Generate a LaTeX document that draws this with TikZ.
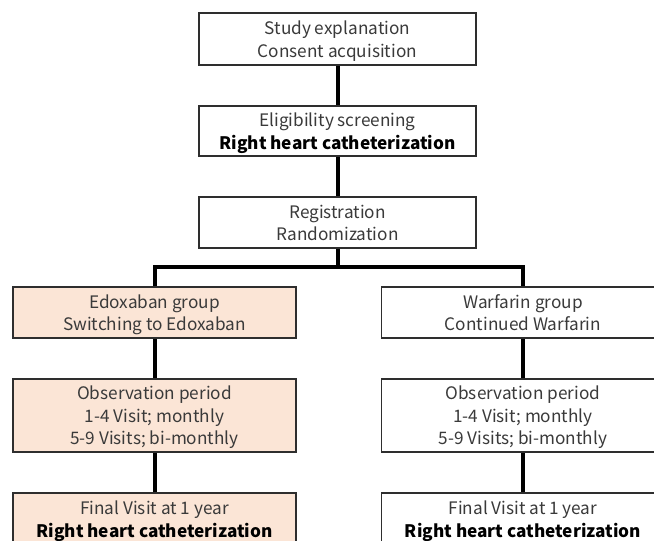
\documentclass[tikz,border=0pt]{standalone}
\usepackage{fontspec}
\setmainfont{Noto Sans CJK JP}
\usetikzlibrary{backgrounds}
\definecolor{peach}{HTML}{FBE5D6}
\definecolor{txtgray}{HTML}{3A3A3A}
\definecolor{bordergray}{HTML}{2E2E2E}
\newcommand\mystrut{\rule[-4.5pt]{0pt}{22.5pt}}
\begin{document}
\begin{tikzpicture}[x=1pt,y=-1pt,
  box/.style={draw=bordergray,line width=1.5pt,fill=white,inner sep=0pt,
    align=center,text=txtgray,
    font=\fontsize{17.2}{22.5}\selectfont},
  peachbox/.style={box,fill=peach},
  conn/.style={line width=4pt,black,line join=miter}]
\useasboundingbox (0,0) rectangle (654,541);
% nodes
\node[box,minimum width=277pt,minimum height=52pt] (consent) at (337.5,39)
  {\mystrut Study explanation\\Consent acquisition\mystrut};
\node[box,minimum width=277pt,minimum height=50pt] (elig) at (337.5,131)
  {\mystrut Eligibility screening\\\textbf{\color{black}Right heart catheterization}\mystrut};
\node[box,minimum width=277pt,minimum height=51pt] (reg) at (337.5,222.5)
  {\mystrut Registration\\Randomization\mystrut};
\coordinate (bar) at (337.5,267);
\node[peachbox,minimum width=283pt,minimum height=51pt] (edo) at (154.5,312.5)
  {\mystrut Edoxaban group\\Switching to Edoxaban\mystrut};
\node[box,minimum width=283pt,minimum height=51pt] (war) at (523,312.5)
  {\mystrut Warfarin group\\Continued Warfarin\mystrut};
\node[peachbox,minimum width=283pt,minimum height=73pt] (obsl) at (154.5,415.5)
  {\mystrut Observation period\\1-4 Visit; monthly\\5-9 Visits; bi-monthly\mystrut};
\node[box,minimum width=283pt,minimum height=73pt] (obsr) at (523,415.5)
  {\mystrut Observation period\\1-4 Visit; monthly\\5-9 Visits; bi-monthly\mystrut};
\node[peachbox,minimum width=283pt,minimum height=52pt] (finl) at (154.5,519)
  {\mystrut Final Visit at 1 year\\\textbf{\color{black}Right heart catheterization}\mystrut};
\node[box,minimum width=283pt,minimum height=52pt] (finr) at (523,519)
  {\mystrut Final Visit at 1 year\\\textbf{\color{black}Right heart catheterization}\mystrut};
% connectors (behind boxes)
\begin{scope}[on background layer]
\draw[conn] (consent.south) -- (elig.north);
\draw[conn] (elig.south) -- (reg.north);
\draw[conn] (reg.south) -- (bar);
\draw[conn] (edo.north) |- (bar) -| (war.north);
\draw[conn] (edo.south) -- (obsl.north);
\draw[conn] (war.south) -- (obsr.north);
\draw[conn] (obsl.south) -- (finl.north);
\draw[conn] (obsr.south) -- (finr.north);
\end{scope}
\end{tikzpicture}
\end{document}
